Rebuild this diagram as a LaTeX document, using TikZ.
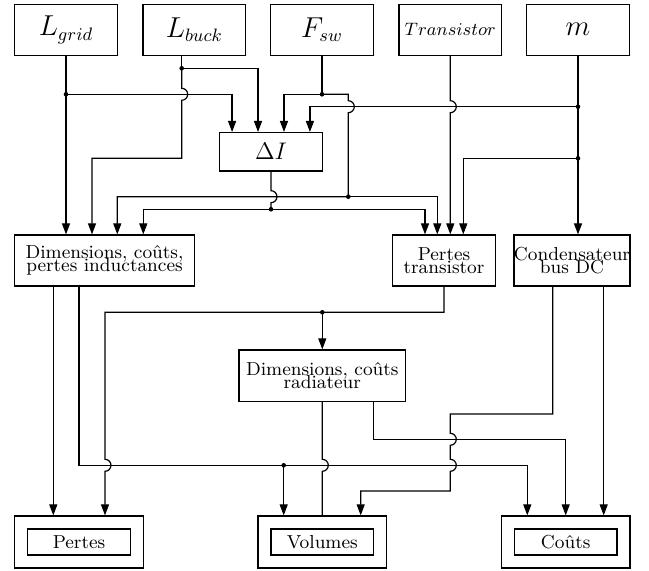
\documentclass[tikz,border=0pt]{standalone}
\usetikzlibrary{arrows.meta,calc}
\newcommand{\mytxt}{\fontsize{9.4}{6.8}\selectfont\lineskiplimit=-100pt\lineskip=0pt}
\newcommand{\mybig}{\fontsize{13.5}{16}\selectfont}
\newcommand{\mymid}{\fontsize{12}{14}\selectfont}
\begin{document}
\begin{tikzpicture}[x=0.5pt,y=-0.5pt, line width=0.6pt,
  box/.style={draw, inner sep=0pt, align=center, font=\mytxt},
  topbox/.style={box, minimum width=51.25pt, minimum height=25.5pt, font=\mybig},
  arr/.style={-{Triangle[length=5.5pt,width=4pt]}},
  jmp/.style={insert path={-- ($(#1)+(0,-6)$) arc[start angle=90,end angle=-90,radius=3pt]}}]
\useasboundingbox (0,0) rectangle (649,571);
% top inputs
\node[topbox] (lgrid) at (66,29.8) {$L_{grid}$};
\node[topbox] (lbuck) at (194.3,29.8) {$L_{buck}$};
\node[topbox] (fsw) at (322,29.8) {$F_{sw}$};
\node[topbox, font=\mytxt] (tr) at (450.3,29.8) {$Transistor$};
\node[topbox] (m) at (578,29.8) {$m$};
% blocks
\node[box, minimum width=51.3pt, minimum height=19.2pt, font=\mymid] (di) at (271,151.8) {$\Delta I$};
\node[box, minimum width=89.8pt, minimum height=25.5pt] (dci) at (104.5,260.5) {Dimensions, coûts,\\pertes inductances};
\node[box, minimum width=51.3pt, minimum height=25.5pt] (pt) at (444,260.5) {Pertes\\transistor};
\node[box, minimum width=57.7pt, minimum height=25.5pt] (cond) at (572,260.5) {Condensateur\\bus DC};
\node[box, minimum width=83.35pt, minimum height=25.85pt] (rad) at (322.3,375.8) {Dimensions, coûts\\radiateur};
% outputs
\node[box, minimum width=64.3pt, minimum height=26pt] (pertes) at (79,542) {};
\node[box, minimum width=51.35pt, minimum height=13pt] (pertesin) at (79,542) {Pertes};
\node[box, minimum width=64.3pt, minimum height=26pt] (vol) at (322.3,542) {};
\node[box, minimum width=51.35pt, minimum height=13pt] (volin) at (322.3,542) {Volumes};
\node[box, minimum width=64.3pt, minimum height=26pt] (cout) at (565.7,542) {};
\node[box, minimum width=51.35pt, minimum height=13pt] (coutin) at (565.7,542) {Coûts};
% junctions
\coordinate (jb) at (181.7,68.3);
\coordinate (jg) at (lgrid.south |- 0,94.3);
\coordinate (jf) at (fsw.south |- 0,94.3);
\coordinate (jm1) at (m.south |- 0,106.7);
\coordinate (jm2) at (m.south |- 0,158.3);
\coordinate (jf2) at (348.3,196.7);
\coordinate (jd) at (di.south |- 0,209.3);
\coordinate (jp) at (rad.north |- 0,312.3);
\coordinate (jv) at (283.7,465.3);
\coordinate (di1) at ($(di.north west)!0.125!(di.north east)$);
\coordinate (di2) at ($(di.north west)!0.375!(di.north east)$);
\coordinate (di3) at ($(di.north west)!0.625!(di.north east)$);
\coordinate (di4) at ($(di.north west)!0.875!(di.north east)$);
% crossings
\coordinate (cbg) at (jb |- jg);
\coordinate (cfm) at (jf2 |- jm1);
\coordinate (ctm) at (tr.south |- jm1);
\coordinate (cdf) at (jd |- jf2);
\coordinate (cpv) at (105,465.3);
\coordinate (crv) at (rad.south |- jv);
\coordinate (cc1) at (450.3,439.3);
\coordinate (cc2) at (450.3,465.3);
% connectors
\draw[arr] (lgrid.south) -- (lgrid.south |- dci.north);
\draw[arr] (jg) -| (di1);
\draw[arr] (lbuck.south -| jb) -- (jb) -| (di2);
\draw[arr] (jb) [jmp=cbg] -- (jb |- 0,158.3) -| (dci.north -| 92,0);
\draw (fsw.south) -- (jf);
\draw[arr] (jf) -| (di3);
\draw[arr] (jf) -- (jf -| jf2) [jmp=cfm] -- (jf2) -| (dci.north -| 117.3,0);
\draw[arr] (jf2) -| (pt.north -| 437.3,0);
\draw[arr] (m.south) -- (m.south |- cond.north);
\draw[arr] (jm1) -| (di4);
\draw[arr] (jm2) -| (pt.north -| 463.3,0);
\draw[arr] (tr.south) [jmp=ctm] -- (tr.south |- pt.north);
\draw (di.south) [jmp=cdf] -- (jd);
\draw[arr] (jd) -| (dci.north -| 143.3,0);
\draw[arr] (jd) -| (pt.north -| 425,0);
\draw[arr] (pt.south) |- (jp) -- (jp -| cpv) [jmp=cpv] -- (pertes.north -| cpv);
\draw[arr] (jp) -- (rad.north);
\draw[arr] (dci.south -| 53.3,0) -- (pertes.north -| 53.3,0);
\draw[arr] (dci.south -| 79,0) |- (jv) -- (jv -| 527.3,0) -- (cout.north -| 527.3,0);
\draw[arr] (jv) -- (vol.north -| jv);
\draw (rad.south) [jmp=crv] -- (rad.south |- vol.north);
\draw[arr] (rad.south -| 373.3,0) |- (cout.north |- 0,439.3) -- (cout.north);
\draw[arr] (cond.south -| 552.7,0) |- (cc1 |- 0,414) [jmp=cc1] [jmp=cc2] -- (cc1 |- 0,491) -| (vol.north -| 360.7,0);
\draw[arr] (cond.south -| 603.7,0) -- (cout.north -| 603.7,0);
% dots
\foreach \p in {jb,jg,jf,jm1,jm2,jf2,jd,jp,jv}
  \fill (\p) circle[radius=1.15pt];
\end{tikzpicture}
\end{document}
